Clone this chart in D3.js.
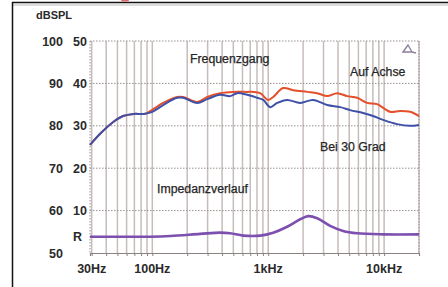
<!DOCTYPE html>
<html>
<head>
<meta charset="utf-8">
<script src="https://cdn.jsdelivr.net/npm/d3@7"></script>
<style>
  body { margin: 0; background: #fff; }
  text { font-family: "Liberation Sans", Arial, sans-serif; fill: #2a2a2a; }
</style>
</head>
<body>
<div class="canvas"></div>
<script>
const WIDTH = 448;
const HEIGHT = 287;
const margin = { top: 41, right: 29, bottom: 34, left: 90 };

const graphWidth = WIDTH - margin.left - margin.right;
const graphHeight = HEIGHT - margin.top - margin.bottom;

// tick labels
const dbTicks = [100, 90, 80, 70, 60, 50];
const ohmTicks = [50, 40, 30, 20, 10];
const rLabelValue = 54;
const freqTicks = [30, 100, 1000, 10000];
const freqTickLabels = ['30Hz', '100Hz', '1kHz', '10kHz'];

// frequency response, on axis (red)
const axisFreq = [29, 36, 46, 56, 69, 84, 90, 124, 164, 185, 244, 298, 385, 499, 659, 743, 853, 1000, 1104, 1346, 1643, 2170, 2644, 3228, 3933, 4800, 5850, 7130, 8700, 11270, 13740, 16750, 20000];
const axisDb = [75.5, 78.3, 80.9, 82.3, 82.8, 82.8, 83.0, 85.4, 86.8, 86.8, 85.6, 86.8, 87.7, 88.0, 88.0, 88.0, 87.7, 86.1, 86.8, 88.9, 88.4, 88.0, 87.7, 87.0, 87.7, 87.0, 86.6, 85.4, 85.1, 83.3, 83.5, 83.3, 82.3];

// frequency response at 30 degrees (blue)
const offFreq = [29, 36, 46, 56, 69, 84, 100, 124, 164, 185, 244, 298, 385, 470, 540, 659, 804, 906, 1040, 1196, 1458, 1888, 2442, 3228, 4178, 5093, 6590, 8035, 9800, 12940, 16750, 20000];
const offDb = [75.5, 78.3, 80.9, 82.3, 82.8, 82.8, 83.3, 84.9, 86.6, 86.6, 85.4, 86.3, 87.3, 87.0, 87.7, 87.3, 86.6, 86.1, 84.4, 85.4, 86.1, 85.4, 86.1, 84.9, 84.4, 83.7, 83.0, 82.3, 81.4, 80.4, 80.0, 80.2];

// impedance (purple), in ohms
const impFreq = [29, 96, 143, 259, 385, 470, 609, 853, 1104, 1458, 1888, 2213, 2644, 3422, 4430, 5850, 9800, 20000];
const impOhm = [3.85, 3.85, 4.0, 4.5, 4.8, 4.65, 4.1, 4.1, 4.8, 6.2, 7.95, 8.7, 8.2, 6.4, 5.2, 4.65, 4.4, 4.4];

const svg = d3.select('.canvas')
  .append('svg')
    .attr('width', WIDTH)
    .attr('height', HEIGHT);

// outer frame
svg.append('line')
  .attr('x1', 12).attr('x2', WIDTH).attr('y1', 2.5).attr('y2', 2.5)
  .attr('stroke', '#111').attr('stroke-width', 1.5);
svg.append('line')
  .attr('x1', 12).attr('x2', WIDTH).attr('y1', 5).attr('y2', 5)
  .attr('stroke', '#bbb').attr('stroke-width', 1);
svg.append('line')
  .attr('x1', 12.5).attr('x2', 12.5).attr('y1', 2).attr('y2', HEIGHT)
  .attr('stroke', '#111').attr('stroke-width', 1.5);
svg.append('ellipse')
  .attr('cx', 125).attr('cy', 0).attr('rx', 4).attr('ry', 1.5)
  .attr('fill', '#e06a6a');

svg.append('text')
  .attr('x', 36).attr('y', 19)
  .attr('font-size', 11).attr('font-weight', 'bold')
  .text('dBSPL');

const graphGroup = svg.append('g')
  .attr('transform', `translate(${margin.left},${margin.top})`);

const x = d3.scaleLog()
  .domain([29, 20000])
  .range([0, graphWidth]);

const y = d3.scaleLinear()
  .domain([50, 100])
  .range([graphHeight, 0]);

// vertical grid: 1-2-3...9 per decade
const gridFreqs = [];
[10, 100, 1000, 10000].forEach(dec => {
  for (let i = 1; i <= 9; i++) {
    const f = dec * i;
    if (f > 29 && f <= 20000) gridFreqs.push(f);
  }
});

graphGroup.selectAll('.vgrid')
  .data(gridFreqs)
  .enter()
  .append('line')
    .attr('class', 'vgrid')
    .attr('x1', d => x(d)).attr('x2', d => x(d))
    .attr('y1', 0).attr('y2', graphHeight)
    .attr('stroke', '#c6bdbb')
    .attr('stroke-width', 1.5);

// horizontal dotted grid
graphGroup.selectAll('.hgrid')
  .data(dbTicks.filter(d => d > 50))
  .enter()
  .append('line')
    .attr('class', 'hgrid')
    .attr('x1', 0).attr('x2', graphWidth)
    .attr('y1', d => y(d)).attr('y2', d => y(d))
    .attr('stroke', '#9a9090')
    .attr('stroke-width', 1)
    .attr('stroke-dasharray', '1.5,1.5');

// left and right borders
graphGroup.append('line')
  .attr('x1', 0).attr('x2', 0).attr('y1', 0).attr('y2', graphHeight)
  .attr('stroke', '#9a9090').attr('stroke-dasharray', '1.5,1.5');
graphGroup.append('line')
  .attr('x1', graphWidth).attr('x2', graphWidth).attr('y1', 0).attr('y2', graphHeight)
  .attr('stroke', '#9a9090').attr('stroke-dasharray', '1.5,1.5');

// bottom axis
const xAxisGroup = graphGroup.append('g')
  .attr('transform', `translate(0,${graphHeight})`)
  .call(d3.axisBottom(x).tickValues(gridFreqs).tickSize(3).tickFormat(''));
xAxisGroup.select('.domain').attr('stroke', '#8a8080').attr('stroke-width', 1.2);
xAxisGroup.selectAll('.tick line').attr('stroke', '#8a8080');

graphGroup.selectAll('.xlabel')
  .data(freqTicks)
  .enter()
  .append('text')
    .attr('class', 'xlabel')
    .attr('x', d => x(d))
    .attr('y', graphHeight + 20)
    .attr('text-anchor', 'middle')
    .attr('font-size', 12.5)
    .attr('font-weight', 'bold')
    .attr('fill', '#3a3a3a')
    .text((d, i) => freqTickLabels[i]);

// y labels: dB column and ohm column
graphGroup.selectAll('.dblabel')
  .data(dbTicks)
  .enter()
  .append('text')
    .attr('class', 'dblabel')
    .attr('x', -27)
    .attr('y', d => y(d) + 4.5)
    .attr('text-anchor', 'end')
    .attr('font-size', 12.5)
    .attr('font-weight', 'bold')
    .attr('fill', '#3a3a3a')
    .text(d => d);

graphGroup.selectAll('.ohmlabel')
  .data(ohmTicks)
  .enter()
  .append('text')
    .attr('class', 'ohmlabel')
    .attr('x', -3)
    .attr('y', (d, i) => y(dbTicks[i]) + 4.5)
    .attr('text-anchor', 'end')
    .attr('font-size', 12.5)
    .attr('font-weight', 'bold')
    .attr('fill', '#3a3a3a')
    .text(d => d);

graphGroup.append('text')
  .attr('x', -8)
  .attr('y', y(rLabelValue) + 4.5)
  .attr('text-anchor', 'end')
  .attr('font-size', 12.5)
  .attr('font-weight', 'bold')
  .attr('fill', '#3a3a3a')
  .text('R');

// curves
const line = d3.line()
  .x(d => x(d[0]))
  .y(d => y(d[1]))
  .curve(d3.curveCatmullRom);

graphGroup.append('path')
  .datum(d3.zip(impFreq, impOhm.map(v => v + 50)))
  .attr('d', line)
  .attr('fill', 'none')
  .attr('stroke', '#7d4fae')
  .attr('stroke-width', 2.6);

graphGroup.append('path')
  .datum(d3.zip(axisFreq, axisDb))
  .attr('d', line)
  .attr('fill', 'none')
  .attr('stroke', '#e5502c')
  .attr('stroke-width', 2);

graphGroup.append('path')
  .datum(d3.zip(offFreq, offDb))
  .attr('d', line)
  .attr('fill', 'none')
  .attr('stroke', '#3e50a8')
  .attr('stroke-width', 2);

// annotations
const notes = [
  { t: 'Frequenzgang', x: 100, y: 63 },
  { t: 'Auf Achse', x: 260, y: 76 },
  { t: 'Bei 30 Grad', x: 230, y: 151 },
  { t: 'Impedanzverlauf', x: 67, y: 193 }
];
svg.selectAll('.note')
  .data(notes)
  .enter()
  .append('text')
    .attr('class', 'note')
    .attr('x', d => margin.left + d.x)
    .attr('y', d => d.y)
    .attr('font-size', 12.3)
    .attr('fill', '#1e1e1e')
    .attr('stroke', '#1e1e1e')
    .attr('stroke-width', 0.25)
    .text(d => d.t);

// small triangle marker top right
svg.append('path')
  .attr('d', 'M403,52 L408,45 L412,52 Z M412,52 L416,53')
  .attr('fill', 'none')
  .attr('stroke', '#8a7f9a')
  .attr('stroke-width', 1.3);
</script>
</body>
</html>
